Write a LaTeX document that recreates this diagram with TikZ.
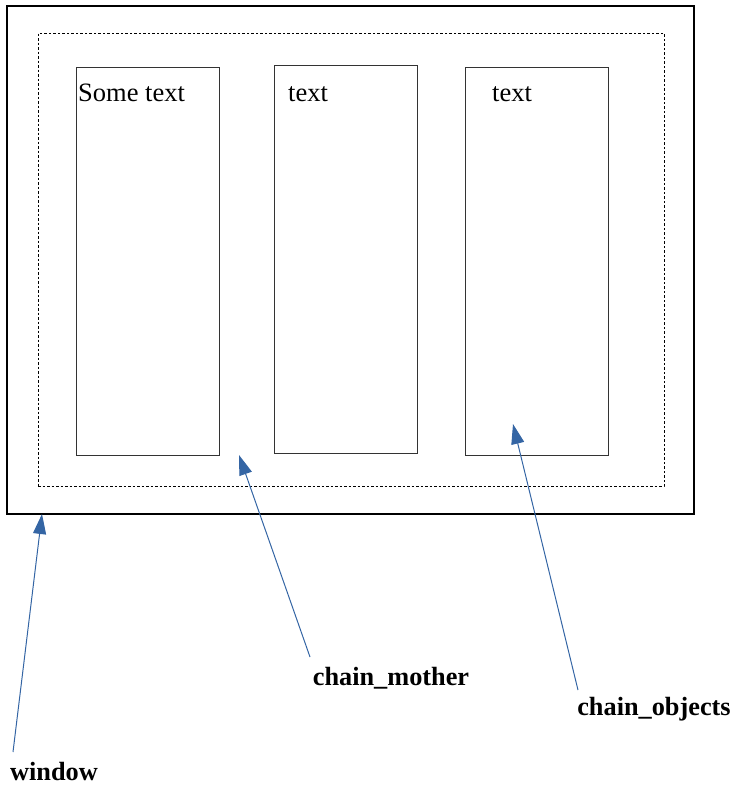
\documentclass[tikz,border=0pt]{standalone}
\usepackage{fontspec}
\setmainfont{Liberation Serif}
\usetikzlibrary{arrows.meta}
\definecolor{arrowblue}{HTML}{3465A4}
\begin{document}
\begin{tikzpicture}[x=1pt,y=-1pt,
  frame/.style={draw=black,line width=2pt,minimum width=687pt,minimum height=508pt,inner sep=0pt},
  mother/.style={draw=black,line width=1pt,dash pattern=on 2.5pt off 2pt,minimum width=626pt,minimum height=453pt,inner sep=0pt},
  objbox/.style={draw=black!80,line width=1pt,minimum width=143pt,minimum height=388pt,inner sep=0pt},
  boxtext/.style={font=\fontsize{26.5}{30}\selectfont,anchor=base west,inner sep=0pt},
  lbl/.style={font=\fontsize{26.3}{30}\selectfont\bfseries,inner sep=0pt},
  pointer/.style={draw=arrowblue,line width=1pt,-{Triangle[length=20pt,width=13pt]}}]
\useasboundingbox (0,0) rectangle (738,785);
\node[frame] (window) at (350.5,260) {};
\node[mother] (chainmother) at (351,259.5) {};
\node[objbox] (b1) at (147.5,261) {};
\node[objbox] (b2) at (346,259.5) {};
\node[objbox] (b3) at (537,261) {};
\node[boxtext] (t1) at (78,101) {Some text};
\node[boxtext] (t2) at (288,101) {text};
\node[boxtext] (t3) at (492,101) {text};
\node[lbl] (lwindow) at (54,771) {window};
\node[lbl] (lmother) at (391,678) {chain\_mother};
\node[lbl] (lobjects) at (654,709) {chain\_objects};
\coordinate (pw) at (42,514);
\coordinate (pm) at (239,455);
\coordinate (po) at (513,424);
\coordinate (sw) at (13,752);
\coordinate (sm) at (310,657);
\coordinate (so) at (578,690);
\draw[pointer] (sw) -- (pw);
\draw[pointer] (sm) -- (pm);
\draw[pointer] (so) -- (po);
\end{tikzpicture}
\end{document}
